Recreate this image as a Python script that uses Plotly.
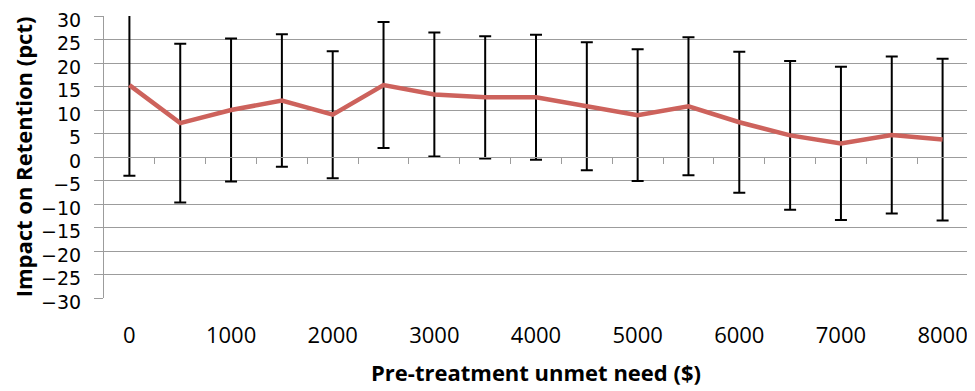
import plotly.graph_objects as go

need = [0, 500, 1000, 1500, 2000, 2500, 3000, 3500, 4000, 4500, 5000, 5500, 6000, 6500, 7000, 7500, 8000]
impact = [15.3, 7.2, 10.0, 12.0, 9.0, 15.3, 13.3, 12.7, 12.7, 10.8, 8.9, 10.8, 7.4, 4.6, 2.9, 4.7, 3.7]
err = [19.3, 16.9, 15.2, 14.1, 13.5, 13.4, 13.2, 13.0, 13.3, 13.6, 14.0, 14.7, 15.0, 15.8, 16.3, 16.7, 17.2]
x_ticks = [0, 1000, 2000, 3000, 4000, 5000, 6000, 7000, 8000]
y_ticks = list(range(-30, 31, 5))
boundaries = [v + 250 for v in need]

FONT = "Open Sans"
GRID = "#9c9c9c"

fig = go.Figure()
fig.add_trace(go.Scatter(
    x=need, y=impact, mode="lines",
    line=dict(color="#CD625C", width=4.5),
    error_y=dict(type="data", array=err, visible=True, color="black", thickness=2, width=6),
    showlegend=False, xaxis="x", yaxis="y",
))
fig.add_trace(go.Scatter(x=[need[0]], y=[0], mode="markers", marker=dict(opacity=0),
                         showlegend=False, xaxis="x2", yaxis="y", hoverinfo="skip"))

# the page body adds an 8px offset, so the figure is sized to the remaining area
fig.update_layout(
    width=967, height=383,
    margin=dict(l=96, r=7, t=8, b=93, autoexpand=False),
    paper_bgcolor="white", plot_bgcolor="white",
    font=dict(family=FONT, size=21, color="black"),
    xaxis=dict(
        range=[-250, 8250], tickvals=x_ticks, ticktext=[str(v) for v in x_ticks],
        showgrid=False, zeroline=False, showline=False, ticks="", ticklabelstandoff=22,
        tickfont=dict(size=22), automargin=False, ticklabeloverflow="allow",
        title=dict(text="<b>Pre-treatment unmet need ($)</b>", font=dict(family=FONT, size=22), standoff=17),
    ),
    xaxis2=dict(
        range=[-250, 8250], overlaying="x", anchor="free", position=0.5, side="bottom",
        tickvals=boundaries, ticks="outside", ticklen=6, tickcolor=GRID, tickwidth=1,
        showticklabels=False, showgrid=False, zeroline=False, automargin=False,
        showline=True, linecolor=GRID, linewidth=1,
    ),
    yaxis=dict(
        range=[-30, 30], tickvals=y_ticks, showgrid=True, gridcolor=GRID, gridwidth=1,
        zeroline=False, showline=True, linecolor=GRID, linewidth=1,
        ticks="outside", ticklen=9, tickcolor=GRID, ticklabelstandoff=9, automargin=False,
        ticklabeloverflow="allow", ticklabelshift=4,
        tickfont=dict(family="DejaVu Sans", size=19),
        title=dict(text="<b>Impact on Retention (pct)</b>", font=dict(family=FONT, size=22), standoff=8),
    ),
)

fig.write_html("out.html")
